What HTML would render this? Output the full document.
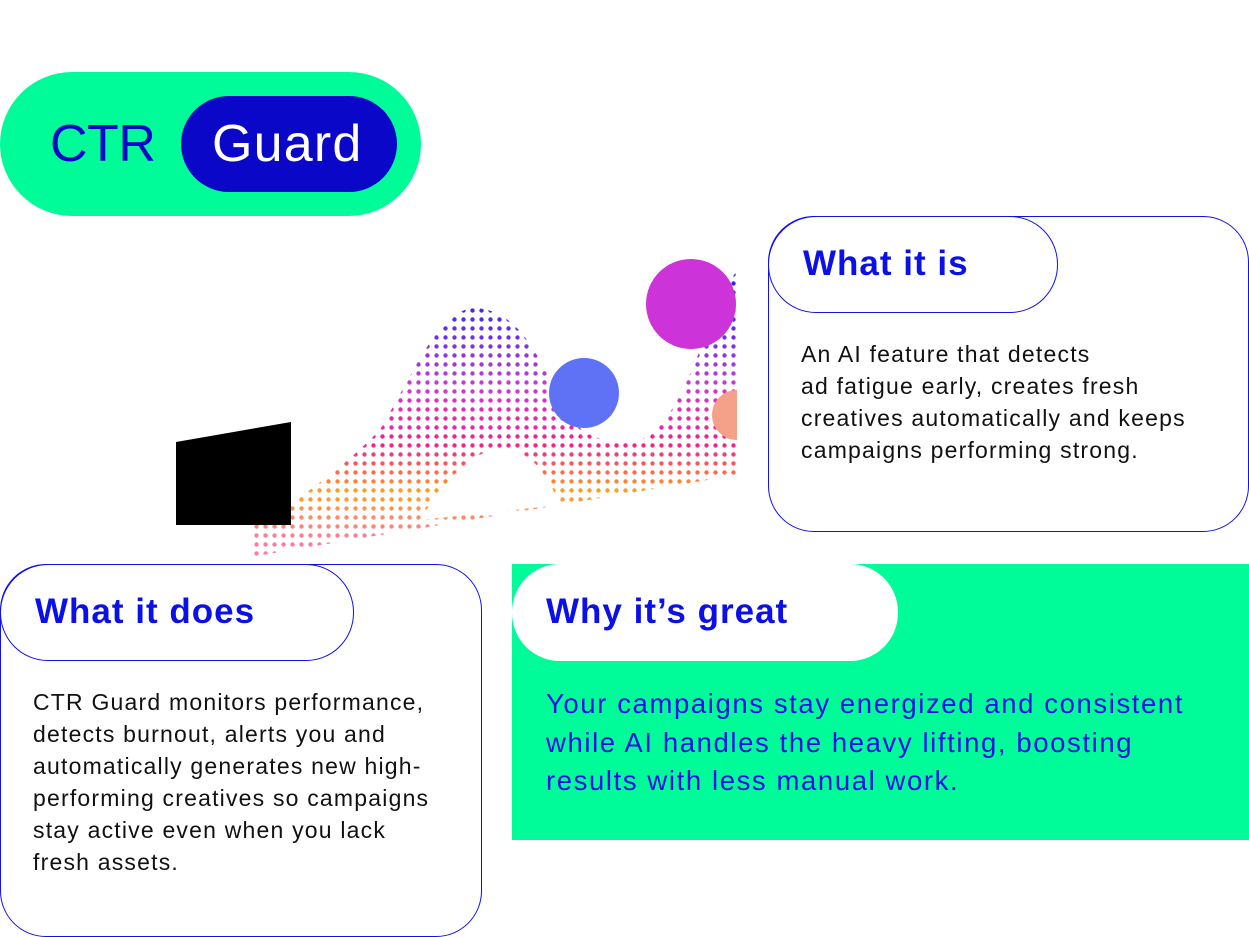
<!DOCTYPE html>
<html><head><meta charset="utf-8"><style>
body{margin:0;width:1249px;height:937px;background:#fff;position:relative;overflow:hidden;font-family:"Liberation Sans",sans-serif}
.a{position:absolute;box-sizing:border-box}
.h{font-weight:bold;color:#0c10e8;font-size:35px;letter-spacing:1px}
.b{font-size:23px;line-height:32px;color:#111;letter-spacing:1.2px;white-space:nowrap}
</style></head><body>
<div class="a" style="left:0;top:72px;width:421px;height:144px;border-radius:72px;background:#00fc98"></div>
<div class="a" style="left:181px;top:96px;width:216px;height:96px;border-radius:48px;background:#0a07c8"></div>
<div class="a" style="left:50px;top:114px;font-size:52px;color:#0a07c8;line-height:60px;letter-spacing:-0.5px">CTR</div>
<div class="a" style="left:212px;top:114px;font-size:52px;color:#fff;line-height:60px;letter-spacing:1.2px">Guard</div>

<svg class="a" style="left:0;top:0" width="1249" height="937">
<defs>
<pattern id="p" width="9" height="9" patternUnits="userSpaceOnUse"><circle cx="4.5" cy="4.5" r="2.2" fill="#fff"/></pattern>
<mask id="m"><rect width="1249" height="937" fill="url(#p)"/></mask>
<linearGradient id="g" x1="0" y1="300" x2="0" y2="540" gradientUnits="userSpaceOnUse">
<stop offset="0" stop-color="#2a2af0"/><stop offset="0.35" stop-color="#c83ad8"/><stop offset="0.6" stop-color="#f5208a"/><stop offset="0.8" stop-color="#ffa020"/><stop offset="1" stop-color="#ff7aa0"/></linearGradient>
</defs>
<path mask="url(#m)" fill="url(#g)" d="M250,528 C300,500 340,470 380,430 C420,360 440,310 475,308 C520,310 540,360 560,400 C575,430 590,442 630,442 C680,440 700,330 737,270 L737,475 L250,557 Z"/>
<path d="M420,520 C450,470 480,450 500,448 C530,450 545,470 560,505 Z" fill="#fff"/>
<polygon points="176,442 291,422 291,525 176,525" fill="#000"/>
<circle cx="691" cy="304" r="45" fill="#cc33d8"/>
<circle cx="584" cy="393" r="35" fill="#5f72f5"/>
<path d="M737,390 A25,25 0 0 0 737,440 Z" fill="#f5a088"/>
</svg>

<div class="a" style="left:768px;top:216px;width:481px;height:316px;border:1.5px solid #1010e8;border-radius:46px"></div>
<div class="a" style="left:768px;top:216px;width:290px;height:97px;border:1.5px solid #1010e8;border-radius:48px;background:#fff"></div>
<div class="a h" style="left:803px;top:244px">What it is</div>
<div class="a b" style="left:801px;top:338px">An AI feature that detects<br>ad fatigue early, creates fresh<br>creatives automatically and keeps<br>campaigns performing strong.</div>

<div class="a" style="left:0;top:564px;width:482px;height:373px;border:1.5px solid #1010e8;border-radius:46px"></div>
<div class="a" style="left:0;top:564px;width:354px;height:97px;border:1.5px solid #1010e8;border-radius:48px;background:#fff"></div>
<div class="a h" style="left:35px;top:592px">What it does</div>
<div class="a b" style="left:33px;top:686px">CTR Guard monitors performance,<br>detects burnout, alerts you and<br>automatically generates new high-<br>performing creatives so campaigns<br>stay active even when you lack<br>fresh assets.</div>

<div class="a" style="left:512px;top:564px;width:737px;height:276px;background:#00fc98"></div>
<div class="a" style="left:512px;top:564px;width:386px;height:97px;border-radius:48px;background:#fff"></div>
<div class="a h" style="left:546px;top:592px">Why it’s great</div>
<div class="a" style="left:546px;top:685px;font-size:27.5px;line-height:38.5px;color:#1a10e8;letter-spacing:1.6px;white-space:nowrap">Your campaigns stay energized and consistent<br>while AI handles the heavy lifting, boosting<br>results with less manual work.</div>
</body></html>
